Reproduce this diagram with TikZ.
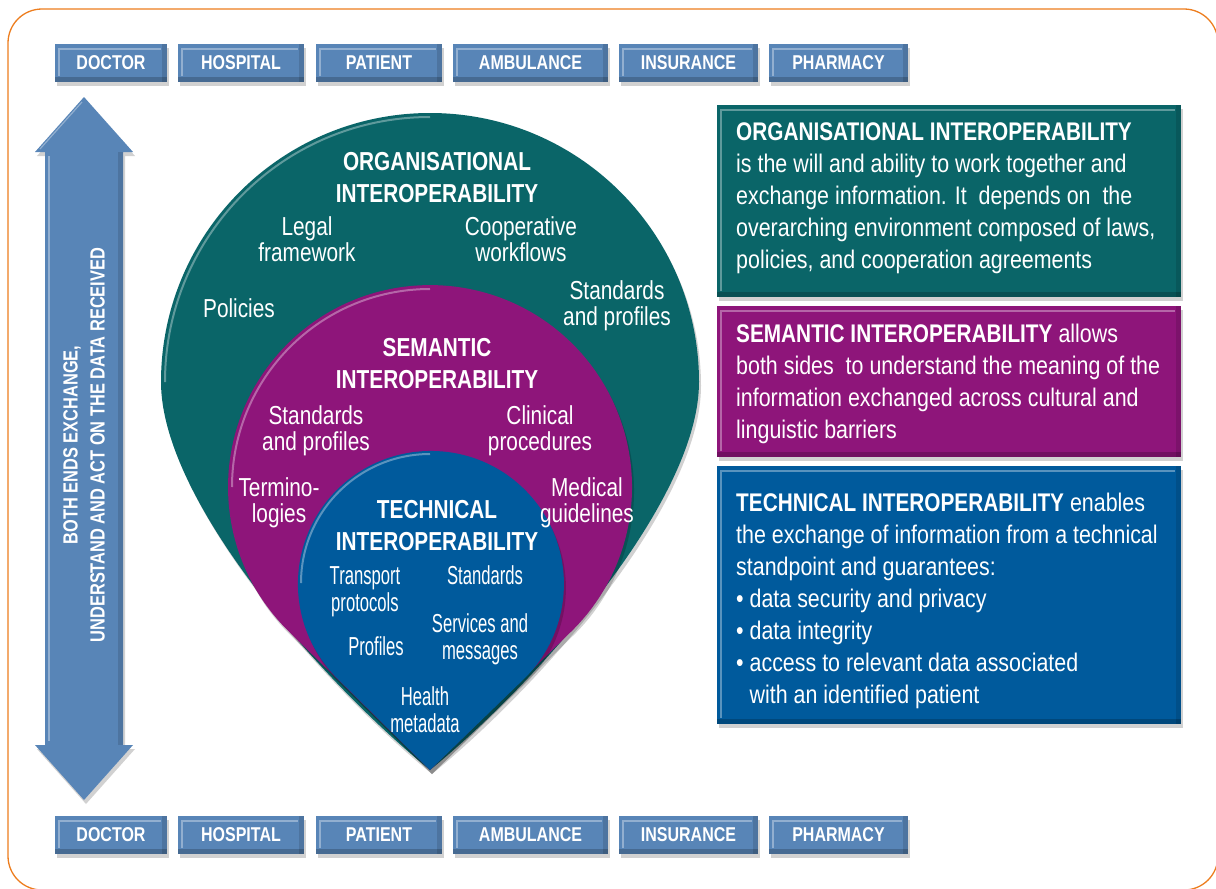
\documentclass[tikz,border=0pt]{standalone}
\usepackage{fontspec}
\setmainfont{Liberation Sans}[FakeStretch=0.8]
\newfontfamily\narrowfont{Liberation Sans}[FakeStretch=0.64]
\newfontfamily\boxfont{Liberation Sans}[FakeStretch=0.84,BoldFeatures={FakeStretch=0.815}]
\usetikzlibrary{shadows}
\definecolor{orgteal}{RGB}{10,101,104}
\definecolor{semmag}{RGB}{142,21,122}
\definecolor{techblue}{RGB}{0,90,156}
\definecolor{tabblue}{RGB}{88,133,183}
\definecolor{frameorange}{RGB}{237,125,30}
\tikzset{
  softshadow/.style={drop shadow={shadow xshift=2pt,shadow yshift=-4pt,opacity=.18,fill=black}},
  bevel/.style={path picture={
    \fill[black,opacity=.2] (path picture bounding box.south west) rectangle ([yshift=5pt]path picture bounding box.south east);
    \fill[black,opacity=.12] ([xshift=-5pt]path picture bounding box.north east) rectangle (path picture bounding box.south east);
    \draw[white,opacity=.35,line width=1.5pt] ([xshift=4pt,yshift=6pt]path picture bounding box.south west) -- ([xshift=4pt,yshift=-5pt]path picture bounding box.north west) -- ([xshift=-6pt,yshift=-5pt]path picture bounding box.north east);
  }},
  tab/.style={fill=tabblue,softshadow,bevel,minimum height=38pt,inner sep=0pt,text=white,
    font=\bfseries\fontsize{20}{20}\selectfont},
  infobox/.style={softshadow,bevel,inner sep=0pt},
  boxtext/.style={text=white,align=left,inner sep=0pt,anchor=base west,font=\boxfont\fontsize{25.5}{32}\selectfont},
  dhead/.style={text=white,align=center,inner sep=0pt,anchor=base,font=\bfseries\fontsize{26}{32}\selectfont},
  ditem/.style={text=white,align=center,inner sep=0pt,anchor=base,font=\fontsize{26}{26}\selectfont},
  bitem/.style={text=white,align=center,inner sep=0pt,anchor=base,font=\narrowfont\fontsize{26}{27}\selectfont},
  rim/.style={white,opacity=.35,line width=2pt}
}
\begin{document}
\begin{tikzpicture}[x=1pt,y=-1pt]
\useasboundingbox (0,0) rectangle (1216,889);
\fill[white] (0,0) rectangle (1216,889);
% frame
\draw[frameorange,line width=1.3pt,rounded corners=34pt] (8,9) rectangle (1218,890);

% tabs top
\node[tab,minimum width=112pt] (t1) at (111,63) {DOCTOR};
\node[tab,minimum width=126pt] (t2) at (241,63) {HOSPITAL};
\node[tab,minimum width=126pt] (t3) at (379,63) {PATIENT};
\node[tab,minimum width=155pt] (t4) at (530.5,63) {AMBULANCE};
\node[tab,minimum width=139pt] (t5) at (688.5,63) {INSURANCE};
\node[tab,minimum width=139pt] (t6) at (838.5,63) {PHARMACY};
% tabs bottom
\node[tab,minimum width=112pt] (b1) at (111,835) {DOCTOR};
\node[tab,minimum width=126pt] (b2) at (241,835) {HOSPITAL};
\node[tab,minimum width=126pt] (b3) at (379,835) {PATIENT};
\node[tab,minimum width=155pt] (b4) at (530.5,835) {AMBULANCE};
\node[tab,minimum width=139pt] (b5) at (688.5,835) {INSURANCE};
\node[tab,minimum width=139pt] (b6) at (838.5,835) {PHARMACY};

% double arrow
\fill[tabblue,softshadow] (84,97) -- (133,152) -- (123,152) -- (123,745) -- (133,745) -- (84,800)
  -- (35,745) -- (45,745) -- (45,152) -- (35,152) -- cycle;
\draw[white,opacity=.35,line width=1.5pt] (49,156) -- (49,741);
\draw[white,opacity=.35,line width=1.2pt] (40,149) -- (82,102);
\fill[black,opacity=.12] (118,152) rectangle (123,745);
\node[rotate=90,text=white,align=center,inner sep=0pt,font=\bfseries\fontsize{20.5}{27}\selectfont] (arrowtext) at (84,445)
  {BOTH ENDS EXCHANGE,\\UNDERSTAND AND ACT ON THE DATA RECEIVED};

% organisational drop
\fill[orgteal,softshadow] (161,382) .. controls (161,233.4) and (281.4,113) .. (430,113)
  .. controls (578.6,113) and (699,233.4) .. (699,382)
  .. controls (699,500) and (540,680) .. (430,770)
  .. controls (320,680) and (161,500) .. (161,382) -- cycle;
\draw[rim] (165,382) .. controls (165,235.6) and (283.6,117) .. (430,117);
% semantic drop
\fill[semmag,softshadow] (288.7,631.4) arc[start angle=225.6,end angle=-45.6,radius=202pt] -- (430,770) -- cycle;
\draw[rim] (232,487) arc[start angle=180,end angle=90,radius=198pt];
% technical drop
\fill[techblue,softshadow] (336.4,677.5) arc[start angle=224.7,end angle=-44.7,radius=133pt] -- (430,770) -- cycle;
\draw[rim] (301,583) arc[start angle=180,end angle=90,radius=129pt];

% drop texts (base = last line)
\node[dhead] (orghead) at (437,202) {ORGANISATIONAL\\INTEROPERABILITY};
\node[ditem] (legal) at (307,261) {Legal\\framework};
\node[ditem] (coop) at (521,261) {Cooperative\\workflows};
\node[ditem] (policies) at (239,317) {Policies};
\node[ditem] (orgstd) at (617,325) {Standards\\and profiles};
\node[dhead] (semhead) at (437,388) {SEMANTIC\\INTEROPERABILITY};
\node[ditem] (semstd) at (316,450) {Standards\\and profiles};
\node[ditem] (clin) at (540,450) {Clinical\\procedures};
\node[ditem] (termin) at (279,522) {Termino-\\logies};
\node[ditem] (medical) at (587,522) {Medical\\guidelines};
\node[dhead] (techhead) at (437,550) {TECHNICAL\\INTEROPERABILITY};
\node[bitem] (transport) at (365,611) {Transport\\protocols};
\node[bitem] (techstd) at (485,584) {Standards};
\node[bitem] (services) at (480,659) {Services and\\messages};
\node[bitem] (profiles) at (376,655) {Profiles};
\node[bitem] (health) at (425,732) {Health\\metadata};

% info boxes
\node[infobox,fill=orgteal,minimum width=464pt,minimum height=192pt] (orgbox) at (949,201) {};
\node[infobox,fill=semmag,minimum width=464pt,minimum height=151pt] (sembox) at (949,381.5) {};
\node[infobox,fill=techblue,minimum width=464pt,minimum height=258pt] (techbox) at (949,595) {};

\node[boxtext] (orgtext) at (736,268) {\textbf{ORGANISATIONAL INTEROPERABILITY}\\
is the will and ability to work together and\\
exchange information. It\ \ depends on\ \ the\\
overarching environment composed of laws,\\
policies, and cooperation agreements};
\node[boxtext] (semtext) at (736,438) {\textbf{SEMANTIC INTEROPERABILITY} allows\\
both sides\ \ to understand the meaning of the\\
information exchanged across cultural and\\
linguistic barriers};
\node[boxtext] (techtext) at (736,703) {\textbf{TECHNICAL INTEROPERABILITY} enables\\
the exchange of information from a technical\\
standpoint and guarantees:\\
• data security and privacy\\
• data integrity\\
• access to relevant data associated\\
\hphantom{• }with an identified patient};
\end{tikzpicture}
\end{document}
